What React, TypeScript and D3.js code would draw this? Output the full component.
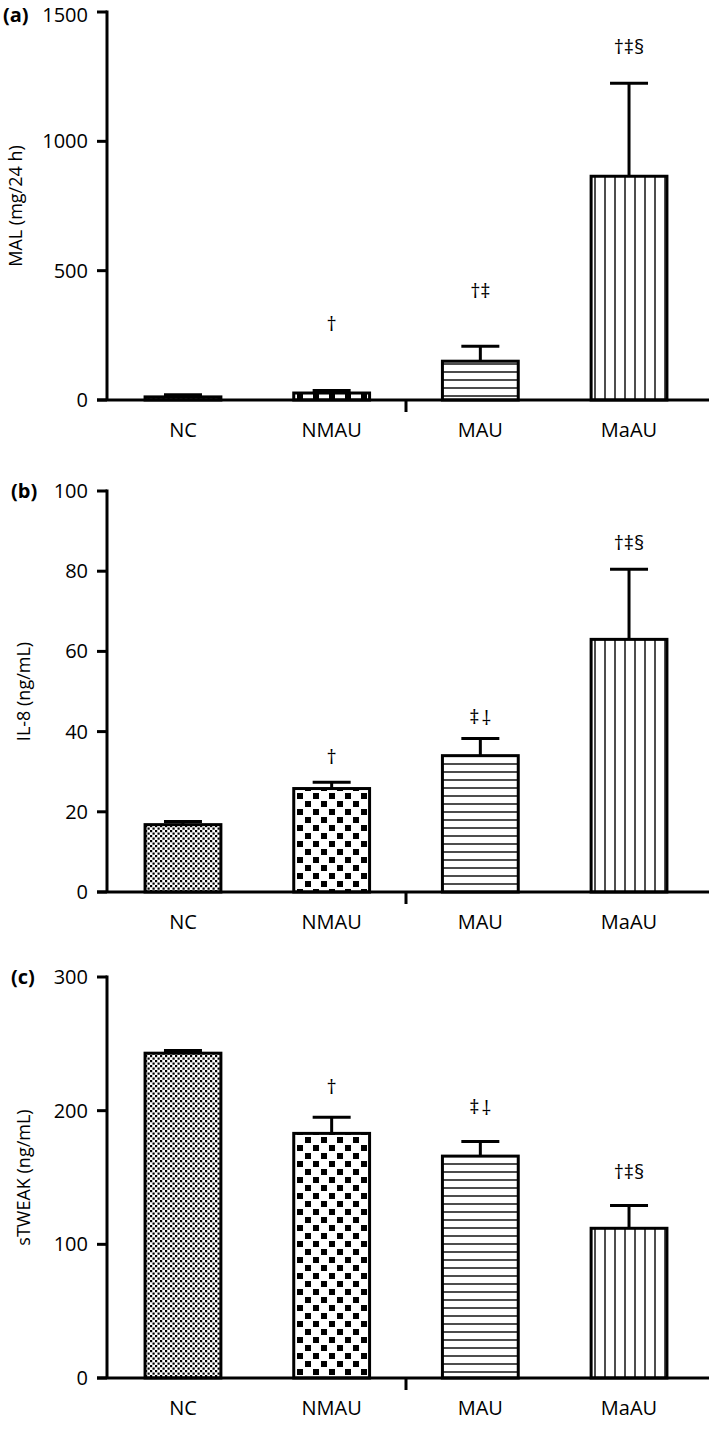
import React from 'react';
import { scaleBand, scaleLinear } from 'd3';

const categories = ['NC', 'NMAU', 'MAU', 'MaAU'];

// panel (a) MAL
const malMean = [12, 27, 150, 865];
const malErr = [8, 10, 58, 360];
const malTicks = [0, 500, 1000, 1500];
const malMarks = ['', '†', '†‡', '†‡§'];
const malMarkAt = [0, 294, 421, 1364];

// panel (b) IL-8
const il8Mean = [16.8, 25.8, 34, 63];
const il8Err = [0.8, 1.6, 4.3, 17.5];
const il8Ticks = [0, 20, 40, 60, 80, 100];
const il8Marks = ['', '†', '‡⸸', '†‡§'];
const il8MarkAt = [0, 33.7, 43.6, 87];

// panel (c) sTWEAK
const tweakMean = [243, 183, 166, 112];
const tweakErr = [2, 12, 11, 17];
const tweakTicks = [0, 100, 200, 300];
const tweakMarks = ['', '†', '‡⸸', '†‡§'];
const tweakMarkAt = [0, 218, 203, 154];

const fills = ['url(#fineCheck)', 'url(#coarseCheck)', 'url(#hLines)', 'url(#vLines)'];
const FONT = '"Open Sans", "Noto Sans", sans-serif';
const AXIS_X = 107;

const x = scaleBand<string>()
  .domain(categories)
  .range([AXIS_X, 705])
  .paddingInner(0.49)
  .paddingOuter(0.256);

interface PanelProps {
  tag: string;
  title: string;
  titleX: number;
  tagX: number;
  top: number;
  bottom: number;
  max: number;
  ticks: number[];
  mean: number[];
  err: number[];
  marks: string[];
  markAt: number[];
}

// '⸸' is drawn as a dagger turned upside down
const Mark: React.FC<{ s: string; cx: number; cy: number }> = ({ s, cx, cy }) => {
  if (s.includes('⸸')) {
    return (
      <g fontFamily={FONT} fontSize={20} textAnchor="middle">
        <text x={cx - 6} y={cy + 7}>‡</text>
        <text x={cx + 6} y={cy + 7} transform={`rotate(180, ${cx + 6}, ${cy})`}>†</text>
      </g>
    );
  }
  return (
    <text x={cx} y={cy + 7} fontFamily={FONT} fontSize={20} textAnchor="middle">
      {s}
    </text>
  );
};

const Panel: React.FC<PanelProps> = (p) => {
  const y = scaleLinear().domain([0, p.max]).range([p.bottom, p.top]);
  const bw = x.bandwidth();
  const breakX = ((x('NMAU') as number) + bw / 2 + (x('MAU') as number) + bw / 2) / 2;
  return (
    <g>
      {/* bars */}
      {categories.map((c, i) => {
        const x0 = x(c) as number;
        const cx = x0 + bw / 2;
        const top = y(p.mean[i]);
        const eTop = y(p.mean[i] + p.err[i]);
        return (
          <g key={c}>
            <line x1={cx} x2={cx} y1={top} y2={eTop} stroke="#000" strokeWidth={3} />
            <line x1={cx - 19} x2={cx + 19} y1={eTop} y2={eTop} stroke="#000" strokeWidth={3} />
            <rect
              x={x0}
              y={top}
              width={bw}
              height={p.bottom - top}
              fill={fills[i]}
              stroke="#000"
              strokeWidth={3}
            />
            {p.marks[i] && <Mark s={p.marks[i]} cx={cx} cy={y(p.markAt[i])} />}
            <text
              x={cx}
              y={p.bottom + 37}
              textAnchor="middle"
              fontFamily={FONT}
              fontSize={20}
            >
              {c}
            </text>
          </g>
        );
      })}

      {/* y axis */}
      <line x1={AXIS_X} x2={AXIS_X} y1={p.top - 1.5} y2={p.bottom} stroke="#000" strokeWidth={3} />
      {p.ticks.map((t) => (
        <g key={t}>
          <line x1={AXIS_X - 10} x2={AXIS_X} y1={y(t)} y2={y(t)} stroke="#000" strokeWidth={3} />
          <text
            x={AXIS_X - 19}
            y={Math.max(y(t) + 7, 22)}
            textAnchor="end"
            fontFamily={FONT}
            fontSize={20}
          >
            {t}
          </text>
        </g>
      ))}

      {/* x axis */}
      <line x1={AXIS_X - 10} x2={709} y1={p.bottom} y2={p.bottom} stroke="#000" strokeWidth={3} />
      <line x1={breakX} x2={breakX} y1={p.bottom} y2={p.bottom + 12} stroke="#000" strokeWidth={3} />

      {/* titles */}
      <text
        transform={`translate(${p.titleX}, ${(p.top + p.bottom) / 2}) rotate(-90)`}
        textAnchor="middle"
        fontFamily={FONT}
        fontSize={18}
      >
        {p.title}
      </text>
      <text
        x={p.tagX}
        y={Math.max(p.top + 7, 22)}
        fontFamily={FONT}
        fontSize={20}
        fontWeight="bold"
      >
        {p.tag}
      </text>
    </g>
  );
};

const App: React.FC = () => (
  <svg
    width={709}
    height={1433}
    style={{ position: 'absolute', left: 0, top: 0, background: '#fff' }}
  >
    <defs>
      <pattern id="fineCheck" width={5} height={5} patternUnits="userSpaceOnUse">
        <rect width={5} height={5} fill="#fff" />
        <rect width={2.2} height={2.2} fill="#000" />
        <rect x={2.5} y={2.5} width={2.2} height={2.2} fill="#000" />
      </pattern>
      <pattern id="coarseCheck" width={16} height={16} patternUnits="userSpaceOnUse">
        <rect width={16} height={16} fill="#fff" />
        <rect x={1} y={1} width={6} height={6} fill="#000" />
        <rect x={9} y={9} width={6} height={6} fill="#000" />
      </pattern>
      <pattern id="hLines" width={8} height={8} patternUnits="userSpaceOnUse">
        <rect width={8} height={8} fill="#fff" />
        <line x1={0} x2={8} y1={4} y2={4} stroke="#111" strokeWidth={1.5} />
      </pattern>
      <pattern id="vLines" width={10} height={10} patternUnits="userSpaceOnUse">
        <rect width={10} height={10} fill="#fff" />
        <line x1={5} x2={5} y1={0} y2={10} stroke="#111" strokeWidth={1.5} />
      </pattern>
    </defs>
    <Panel
      tag="(a)"
      title="MAL (mg/24 h)"
      titleX={22}
      tagX={3}
      top={12}
      bottom={400}
      max={1500}
      ticks={malTicks}
      mean={malMean}
      err={malErr}
      marks={malMarks}
      markAt={malMarkAt}
    />
    <Panel
      tag="(b)"
      title="IL-8 (ng/mL)"
      titleX={30}
      tagX={11}
      top={491}
      bottom={892}
      max={100}
      ticks={il8Ticks}
      mean={il8Mean}
      err={il8Err}
      marks={il8Marks}
      markAt={il8MarkAt}
    />
    <Panel
      tag="(c)"
      title="sTWEAK (ng/mL)"
      titleX={30}
      tagX={11}
      top={977}
      bottom={1378}
      max={300}
      ticks={tweakTicks}
      mean={tweakMean}
      err={tweakErr}
      marks={tweakMarks}
      markAt={tweakMarkAt}
    />
  </svg>
);

export default App;
